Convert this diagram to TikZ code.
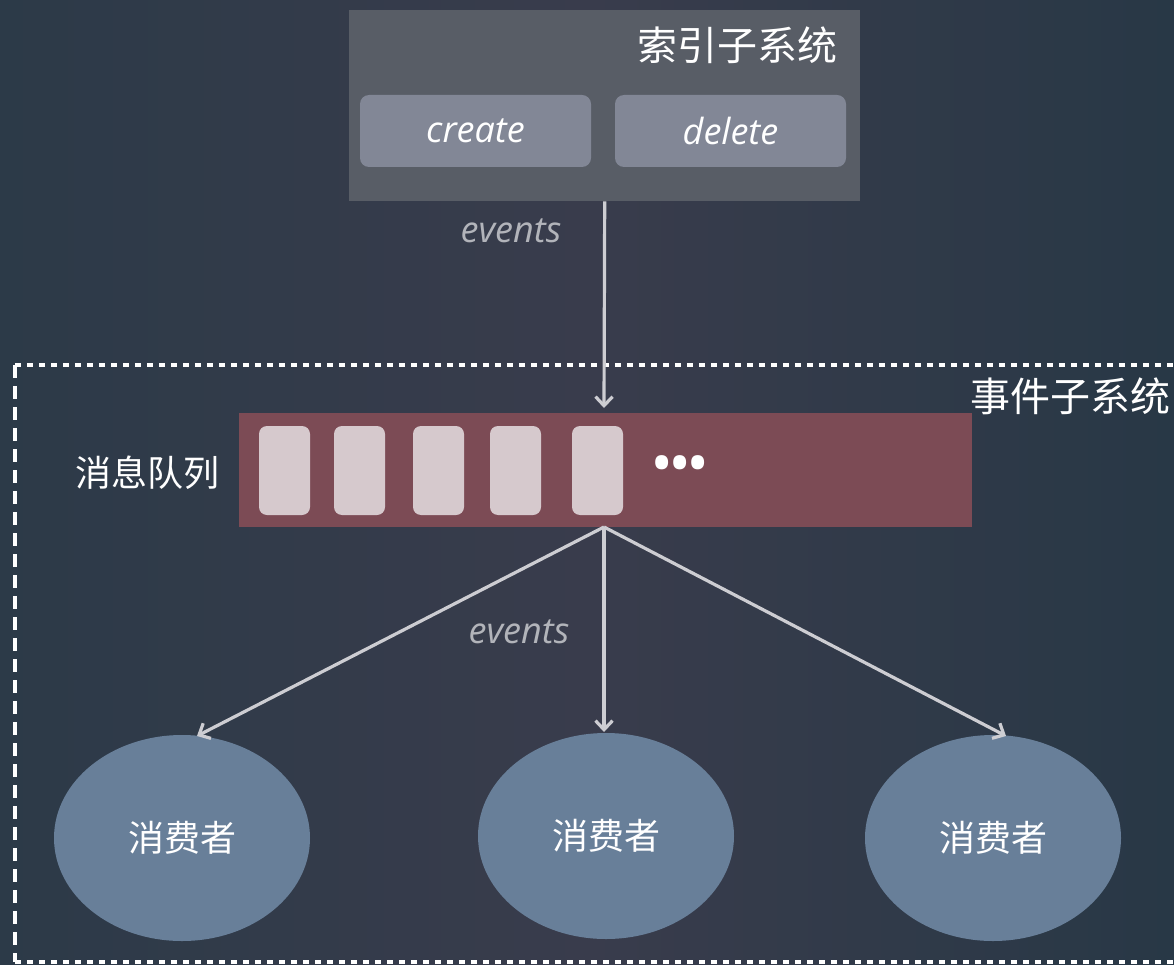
\documentclass[tikz,border=0pt]{standalone}
\usepackage{fontspec}
\setmainfont{Open Sans}
\newfontfamily\cjk{Noto Sans CJK SC}
\usetikzlibrary{arrows.meta,shapes.geometric}
\definecolor{bgA}{RGB}{44,58,72}
\definecolor{bgB}{RGB}{57,60,76}
\definecolor{bgC}{RGB}{40,56,70}
\definecolor{idxfill}{RGB}{88,93,102}
\definecolor{btnfill}{RGB}{130,135,150}
\definecolor{qfill}{RGB}{124,75,85}
\definecolor{slotfill}{RGB}{214,201,205}
\definecolor{consfill}{RGB}{104,127,153}
\definecolor{linec}{RGB}{205,205,210}
\definecolor{evc}{RGB}{178,180,186}
\tikzset{
  btn/.style={draw=none,fill=btnfill,rounded corners=9pt,minimum width=231pt,minimum height=72pt,text=white,font=\fontsize{36}{40}\selectfont\itshape},
  slot/.style={draw=none,fill=slotfill,rounded corners=8pt,minimum width=51pt,minimum height=89pt,inner sep=0pt},
  cons/.style={ellipse,draw=none,fill=consfill,minimum width=256pt,minimum height=206pt,inner sep=0pt,text=white,font=\cjk\fontsize{36}{40}\selectfont},
  conn/.style={draw=linec,line width=3.2pt,-{Straight Barb[length=9pt,width=17pt,line width=3.2pt]}},
  evlabel/.style={text=evc,font=\fontsize{36}{40}\selectfont\itshape},
  cjktitle/.style={text=white,font=\cjk\fontsize{40}{44}\selectfont},
  dashline/.style={draw=white,line width=3.2pt}
}
\begin{document}
\begin{tikzpicture}[x=1pt,y=-1pt]
\useasboundingbox (0,0) rectangle (1174,965);
\shade[left color=bgA,right color=bgC,middle color=bgB] (0,0) rectangle (1174,965);
% index subsystem
\node[draw=none,fill=idxfill,minimum width=511pt,minimum height=191pt,inner sep=0pt,anchor=north west] (idx) at (349,10) {};
\node[cjktitle,anchor=east] (idxt) at (841,45) {索引子系统};
\node[btn] (create) at (475.5,131) {create};
\node[btn] (delete) at (730.5,131) {delete};
% event subsystem dashed frame
\coordinate (f1) at (15,365);
\coordinate (f2) at (1180,365);
\coordinate (f3) at (15,962);
\coordinate (f4) at (1180,962);
\draw[dashline,dash pattern=on 6pt off 6pt] (f1) -- (f2);
\draw[dashline,dash pattern=on 6pt off 6pt] (f3) -- (f4);
\draw[dashline,dash pattern=on 13pt off 8pt] (f1) -- (f3);
\node[cjktitle,anchor=east] (evt) at (1174,396) {事件子系统};
% queue
\node[draw=none,fill=qfill,minimum width=733pt,minimum height=114pt,inner sep=0pt] (q) at (605.5,470) {};
\node[cjktitle,font=\cjk\fontsize{36}{40}\selectfont] (ql) at (147,473) {消息队列};
\node[slot] (s1) at (284.5,470.5) {};
\node[slot] (s2) at (359.5,470.5) {};
\node[slot] (s3) at (438.5,470.5) {};
\node[slot] (s4) at (515.5,470.5) {};
\node[slot] (s5) at (597.5,470.5) {};
\node[text=white,font=\fontsize{46}{46}\selectfont\bfseries,inner sep=0pt] (dots) at (680,468) {•\kern1pt•\kern1pt•};
% consumers
\node[cons] (c1) at (182,838) {消费者};
\node[cons] (c2) at (606,836) {消费者};
\node[cons] (c3) at (993,838) {消费者};
% connectors
\coordinate (qin) at (604,408);
\coordinate (qout) at (604,527);
\coordinate (e1) at (197,736);
\coordinate (e2) at (604,732);
\coordinate (e3) at (1006,736);
\draw[conn] (idx.south) -- (qin);
\draw[conn] (qout) -- (e1);
\draw[conn] (qout) -- (e2);
\draw[conn] (qout) -- (e3);
\node[evlabel] (ev1) at (511,231) {events};
\node[evlabel] (ev2) at (519,632) {events};
\end{tikzpicture}
\end{document}
